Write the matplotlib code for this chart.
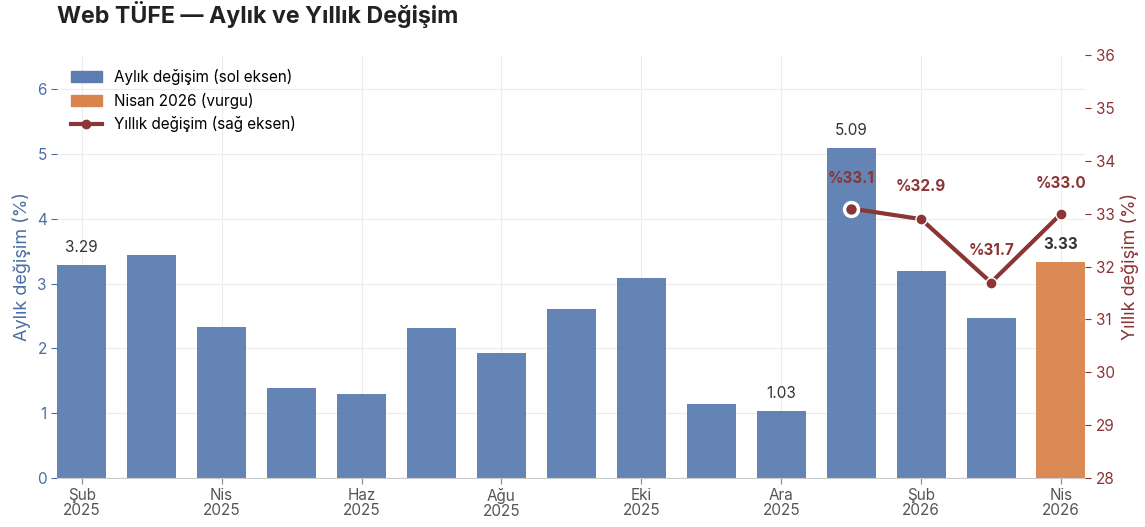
import numpy as np
import matplotlib.pyplot as plt
from matplotlib.patches import Patch
from matplotlib.lines import Line2D

plt.rcParams['font.family'] = ['Inter', 'DejaVu Sans']

months = ['Şub', 'Mar', 'Nis', 'May', 'Haz', 'Tem', 'Ağu', 'Eyl', 'Eki', 'Kas',
          'Ara', 'Oca', 'Şub', 'Mar', 'Nis']
years = ['2025'] * 11 + ['2026'] * 4
monthly = [3.29, 3.44, 2.33, 1.39, 1.30, 2.31, 1.93, 2.61, 3.08, 1.14, 1.03, 5.09, 3.19, 2.47, 3.33]
yearly_idx = [11, 12, 13, 14]
yearly = [33.1, 32.9, 31.7, 33.0]
labelled = [0, 10, 11, 14]

blue = '#5b7db1'
orange = '#d9844c'
red = '#8b3535'
blue_txt = '#4a6fa5'

x = np.arange(len(monthly))
colors = [blue] * (len(monthly) - 1) + [orange]

fig, ax = plt.subplots(figsize=(11.45, 5.27), dpi=100)
fig.subplots_adjust(left=0.05, right=0.948, top=0.895, bottom=0.093)

ax.bar(x, monthly, width=0.7, color=colors, alpha=0.95, zorder=2)
ax.set_xlim(-0.35, 14.35)
ax.set_ylim(0, 6.52)
ax.set_yticks(range(0, 7))
ax.grid(True, color='#ececec', linewidth=0.8, zorder=0)
ax.set_axisbelow(True)
for s in ['top', 'right', 'left']:
    ax.spines[s].set_visible(False)
ax.spines['bottom'].set_color('#cccccc')
ax.tick_params(axis='y', colors=blue_txt, labelsize=11, length=4)
ax.tick_params(axis='x', colors='#888888', labelsize=11, length=4)
ax.set_xticks(x[::2])
ax.set_xticklabels([f'{months[i]}\n{years[i]}' for i in x[::2]], color='#555555', linespacing=1.0)
ax.set_ylabel('Aylık değişim (%)', color=blue_txt, fontsize=13)

for i in labelled:
    ax.text(x[i], monthly[i] + 0.15, f'{monthly[i]:.2f}', ha='center', va='bottom',
            fontsize=11, color='#333333', fontweight='bold' if i == 14 else 'normal')

ax2 = ax.twinx()
ax2.set_ylim(28, 36)
ax2.set_yticks(range(28, 37))
for s in ['top', 'right', 'left', 'bottom']:
    ax2.spines[s].set_visible(False)
ax2.tick_params(axis='y', colors=red, labelsize=11, length=4)
ax2.set_ylabel('Yıllık değişim (%)', color=red, fontsize=13)

xi = x[yearly_idx]
ax2.plot(xi, yearly, color=red, linewidth=3, zorder=3)
ax2.plot(xi[1:], yearly[1:], 'o', color=red, markersize=8, markeredgecolor='white',
         markeredgewidth=1, zorder=4)
ax2.plot(xi[:1], yearly[:1], 'o', color=red, markersize=10, markeredgecolor='white',
         markeredgewidth=2.5, zorder=4)
offsets = [0.57, 0.62, 0.61, 0.58]
for xx, yy, off in zip(xi, yearly, offsets):
    ax2.text(xx, yy + off, f'%{yy:.1f}', ha='center', va='center', fontsize=11,
             color=red, fontweight='bold')

handles = [Patch(color=blue, label='Aylık değişim (sol eksen)'),
           Patch(color=orange, label='Nisan 2026 (vurgu)'),
           Line2D([0], [0], color=red, linewidth=3, marker='o', markersize=6,
                  label='Yıllık değişim (sağ eksen)')]
ax.legend(handles=handles, loc='upper left', frameon=False, fontsize=11,
          bbox_to_anchor=(0.0, 1.0), handlelength=2.0)

fig.text(0.05, 0.972, 'Web TÜFE — Aylık ve Yıllık Değişim', fontsize=16.7,
         fontweight='bold', color='#222222', va='center')

fig.savefig('out.png', dpi=100)
